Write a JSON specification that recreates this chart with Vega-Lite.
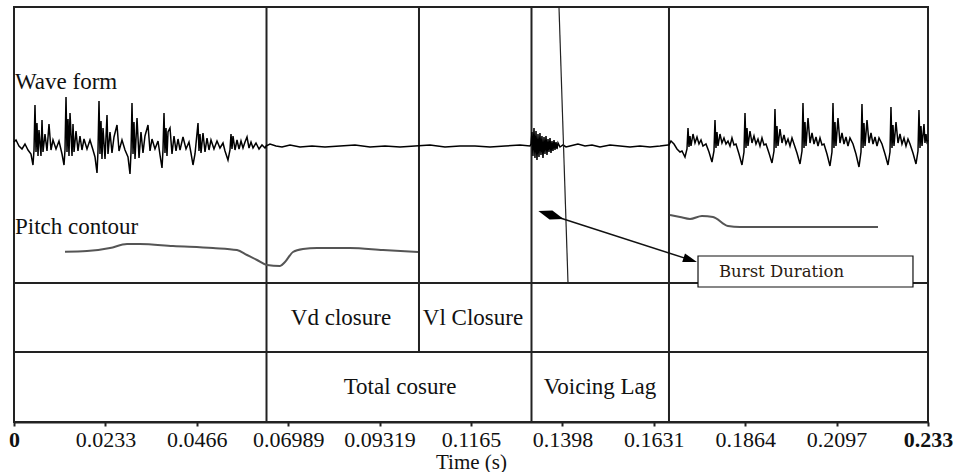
{
  "$schema": "https://vega.github.io/schema/vega-lite/v6.json",
  "width": 914,
  "height": 415,
  "autosize": "none",
  "padding": {"left": 14, "top": 7, "right": 32, "bottom": 50},
  "background": "white",
  "config": {
    "view": {"stroke": "#222", "strokeWidth": 2},
    "font": "Liberation Serif"
  },
  "datasets": {
    "lines": [
      {"t": 0.06437, "t2": 0.06437, "v": 139, "v2": -276},
      {"t": 0.10324, "t2": 0.10324, "v": 139, "v2": -206},
      {"t": 0.13192, "t2": 0.13192, "v": 139, "v2": -276},
      {"t": 0.16697, "t2": 0.16697, "v": 139, "v2": -276},
      {"t": 0, "t2": 0.233, "v": -137, "v2": -137},
      {"t": 0, "t2": 0.233, "v": -206, "v2": -206}
    ],
    "diag": [{"t": 0.13893, "t2": 0.14123, "v": 139, "v2": -137}],
    "arrow": [{"t": 0.13689, "t2": 0.1724, "v": -69, "v2": -113.9}],
    "diamond": [{"t": 0.13689, "v": -69}],
    "head": [{"t": 0.1724, "v": -113.9}],
    "box": [{"t": 0.17437, "t2": 0.22917, "v": -110, "v2": -141}],
    "pitch": [
      {"seg": "L", "t": 0.013, "v": -105.7},
      {"seg": "L", "t": 0.01861, "v": -105},
      {"seg": "L", "t": 0.02447, "v": -102},
      {"seg": "L", "t": 0.02881, "v": -98},
      {"seg": "L", "t": 0.03212, "v": -98},
      {"seg": "L", "t": 0.04053, "v": -100},
      {"seg": "L", "t": 0.05073, "v": -102},
      {"seg": "L", "t": 0.05685, "v": -104},
      {"seg": "L", "t": 0.0594, "v": -109},
      {"seg": "L", "t": 0.06195, "v": -114},
      {"seg": "L", "t": 0.06449, "v": -119},
      {"seg": "L", "t": 0.06781, "v": -120},
      {"seg": "L", "t": 0.06908, "v": -116},
      {"seg": "L", "t": 0.07112, "v": -106},
      {"seg": "L", "t": 0.07367, "v": -103},
      {"seg": "L", "t": 0.07724, "v": -102},
      {"seg": "L", "t": 0.08565, "v": -102},
      {"seg": "L", "t": 0.09407, "v": -104},
      {"seg": "L", "t": 0.10299, "v": -106},
      {"seg": "R", "t": 0.16723, "v": -69},
      {"seg": "R", "t": 0.16978, "v": -71},
      {"seg": "R", "t": 0.17233, "v": -73},
      {"seg": "R", "t": 0.17538, "v": -70},
      {"seg": "R", "t": 0.17819, "v": -71},
      {"seg": "R", "t": 0.18201, "v": -80},
      {"seg": "R", "t": 0.18507, "v": -81},
      {"seg": "R", "t": 0.22025, "v": -81}
    ],
    "leftLabels": [
      {"t": 0.00025, "v": 57, "label": "Wave form"},
      {"t": 0.00025, "v": -88, "label": "Pitch contour"}
    ],
    "cellLabels": [
      {"t": 0.08336, "v": -179, "label": "Vd closure"},
      {"t": 0.11701, "v": -179, "label": "Vl Closure"},
      {"t": 0.0984, "v": -248, "label": "Total cosure"},
      {"t": 0.14938, "v": -248, "label": "Voicing Lag"}
    ],
    "boxLabel": [{"t": 0.17972, "v": -131, "label": "Burst Duration"}],
    "wave": [
      {"t": 0, "v": 4}, {"t": 0.00051, "v": 6}, {"t": 0.00127, "v": 0}, {"t": 0.00204, "v": -3},
      {"t": 0.0028, "v": 2}, {"t": 0.00357, "v": -4}, {"t": 0.00433, "v": -8}, {"t": 0.00484, "v": -19},
      {"t": 0.0051, "v": -4}, {"t": 0.00535, "v": 41}, {"t": 0.00561, "v": -6}, {"t": 0.00586, "v": 23},
      {"t": 0.00612, "v": -10}, {"t": 0.00637, "v": 16}, {"t": 0.00688, "v": -10}, {"t": 0.00714, "v": 26},
      {"t": 0.00739, "v": -6}, {"t": 0.0079, "v": 12}, {"t": 0.00841, "v": -5}, {"t": 0.00892, "v": 22},
      {"t": 0.00943, "v": -4}, {"t": 0.00994, "v": 6}, {"t": 0.01071, "v": -3}, {"t": 0.01147, "v": 5},
      {"t": 0.01224, "v": -8}, {"t": 0.01275, "v": -19}, {"t": 0.013, "v": -4}, {"t": 0.01326, "v": 49},
      {"t": 0.01351, "v": -6}, {"t": 0.01377, "v": 27}, {"t": 0.01402, "v": -10}, {"t": 0.01428, "v": 33},
      {"t": 0.01479, "v": -10}, {"t": 0.01504, "v": 22}, {"t": 0.0153, "v": -6}, {"t": 0.01581, "v": 15},
      {"t": 0.01631, "v": -5}, {"t": 0.01682, "v": 10}, {"t": 0.01733, "v": -4}, {"t": 0.01784, "v": 7},
      {"t": 0.01861, "v": -3}, {"t": 0.01937, "v": 6}, {"t": 0.02014, "v": -4}, {"t": 0.02065, "v": -11},
      {"t": 0.02116, "v": -27}, {"t": 0.02141, "v": -5}, {"t": 0.02167, "v": 45}, {"t": 0.02192, "v": -8},
      {"t": 0.02218, "v": 25}, {"t": 0.02243, "v": -13}, {"t": 0.02269, "v": 18}, {"t": 0.0232, "v": -13},
      {"t": 0.02371, "v": 31}, {"t": 0.02396, "v": -8}, {"t": 0.02447, "v": 14}, {"t": 0.02498, "v": -7},
      {"t": 0.02549, "v": 9}, {"t": 0.02626, "v": 21}, {"t": 0.02677, "v": -5}, {"t": 0.02753, "v": 6},
      {"t": 0.0283, "v": -4}, {"t": 0.02906, "v": -11}, {"t": 0.02957, "v": -28}, {"t": 0.02983, "v": -6},
      {"t": 0.03008, "v": 43}, {"t": 0.03034, "v": -8}, {"t": 0.03059, "v": 24}, {"t": 0.03085, "v": -13},
      {"t": 0.03136, "v": 28}, {"t": 0.03187, "v": -12}, {"t": 0.03237, "v": 14}, {"t": 0.03288, "v": -7},
      {"t": 0.03339, "v": 10}, {"t": 0.03416, "v": 21}, {"t": 0.03467, "v": -5}, {"t": 0.03518, "v": 7},
      {"t": 0.03594, "v": -3}, {"t": 0.03671, "v": 5}, {"t": 0.03722, "v": -9}, {"t": 0.03773, "v": -22},
      {"t": 0.03798, "v": -4}, {"t": 0.03824, "v": 33}, {"t": 0.03849, "v": -7}, {"t": 0.03875, "v": 18},
      {"t": 0.039, "v": -10}, {"t": 0.03926, "v": 14}, {"t": 0.03977, "v": 18}, {"t": 0.04028, "v": -8},
      {"t": 0.04079, "v": 10}, {"t": 0.0413, "v": -5}, {"t": 0.04181, "v": 7}, {"t": 0.04232, "v": -4},
      {"t": 0.04308, "v": 9}, {"t": 0.04385, "v": -3}, {"t": 0.04461, "v": 4}, {"t": 0.04512, "v": -7},
      {"t": 0.04563, "v": -19}, {"t": 0.04614, "v": -8}, {"t": 0.04691, "v": 23}, {"t": 0.04716, "v": -5},
      {"t": 0.04742, "v": 12}, {"t": 0.04767, "v": -7}, {"t": 0.04818, "v": 13}, {"t": 0.04869, "v": -6},
      {"t": 0.0492, "v": 8}, {"t": 0.04971, "v": -4}, {"t": 0.05022, "v": 6}, {"t": 0.05098, "v": -3},
      {"t": 0.05175, "v": 5}, {"t": 0.05251, "v": -2}, {"t": 0.05328, "v": 3}, {"t": 0.05379, "v": -5},
      {"t": 0.05455, "v": -14}, {"t": 0.05506, "v": -4}, {"t": 0.05532, "v": 12}, {"t": 0.05557, "v": -3},
      {"t": 0.05583, "v": 10}, {"t": 0.05634, "v": -4}, {"t": 0.05685, "v": 6}, {"t": 0.05736, "v": -3},
      {"t": 0.05787, "v": 5}, {"t": 0.05838, "v": -2}, {"t": 0.05889, "v": 4}, {"t": 0.0594, "v": 9},
      {"t": 0.05991, "v": -2}, {"t": 0.06042, "v": 4}, {"t": 0.06093, "v": -2}, {"t": 0.06169, "v": 3},
      {"t": 0.06246, "v": -3}, {"t": 0.06322, "v": 1}, {"t": 0.06399, "v": -2}, {"t": 0.06424, "v": 0},
      {"t": 0.06526, "v": 2}, {"t": 0.06679, "v": 0}, {"t": 0.06832, "v": -1}, {"t": 0.07036, "v": 1},
      {"t": 0.07291, "v": -1}, {"t": 0.07597, "v": 0}, {"t": 0.07928, "v": -1}, {"t": 0.0831, "v": 0},
      {"t": 0.08693, "v": 1}, {"t": 0.09075, "v": -1}, {"t": 0.09458, "v": 0}, {"t": 0.0984, "v": -1},
      {"t": 0.10222, "v": 0}, {"t": 0.10605, "v": 1}, {"t": 0.10987, "v": -1}, {"t": 0.11369, "v": 0},
      {"t": 0.11752, "v": 0}, {"t": 0.12134, "v": -1}, {"t": 0.12517, "v": 0}, {"t": 0.12899, "v": 1},
      {"t": 0.13154, "v": 0},
      {"t": 0.13179, "v": 2}, {"t": 0.13205, "v": 14}, {"t": 0.1323, "v": -10}, {"t": 0.13256, "v": 18},
      {"t": 0.13281, "v": -12}, {"t": 0.13307, "v": 15}, {"t": 0.13332, "v": -14}, {"t": 0.13358, "v": 12},
      {"t": 0.13383, "v": -11}, {"t": 0.13408, "v": 13}, {"t": 0.13434, "v": -9}, {"t": 0.13459, "v": 10},
      {"t": 0.13485, "v": -12}, {"t": 0.13511, "v": 9}, {"t": 0.13536, "v": -8}, {"t": 0.13562, "v": 10},
      {"t": 0.13587, "v": -9}, {"t": 0.13613, "v": 7}, {"t": 0.13638, "v": -6}, {"t": 0.13664, "v": 8},
      {"t": 0.13689, "v": -7}, {"t": 0.13715, "v": 5}, {"t": 0.1374, "v": -5}, {"t": 0.13766, "v": 6},
      {"t": 0.13791, "v": -4}, {"t": 0.13817, "v": 4}, {"t": 0.13842, "v": -3}, {"t": 0.13868, "v": 3},
      {"t": 0.13919, "v": -1}, {"t": 0.13995, "v": 1}, {"t": 0.14072, "v": -1},
      {"t": 0.14174, "v": 0}, {"t": 0.14377, "v": 2}, {"t": 0.14556, "v": 0}, {"t": 0.14734, "v": 1},
      {"t": 0.14938, "v": -1}, {"t": 0.15193, "v": 1}, {"t": 0.15448, "v": 0}, {"t": 0.15703, "v": -1},
      {"t": 0.15958, "v": 0}, {"t": 0.16213, "v": -1}, {"t": 0.16468, "v": 0}, {"t": 0.16672, "v": 1},
      {"t": 0.16697, "v": 1}, {"t": 0.16748, "v": 5}, {"t": 0.16825, "v": 2}, {"t": 0.16901, "v": -3},
      {"t": 0.16978, "v": -6}, {"t": 0.17029, "v": -5}, {"t": 0.17105, "v": -11}, {"t": 0.17156, "v": -3},
      {"t": 0.17182, "v": 18}, {"t": 0.17207, "v": -1}, {"t": 0.17233, "v": 10}, {"t": 0.17258, "v": 0},
      {"t": 0.17309, "v": 12}, {"t": 0.1736, "v": 3}, {"t": 0.17411, "v": 9}, {"t": 0.17462, "v": 2},
      {"t": 0.17513, "v": 6}, {"t": 0.17564, "v": 0}, {"t": 0.1764, "v": 2}, {"t": 0.17717, "v": -6},
      {"t": 0.17793, "v": -16}, {"t": 0.17844, "v": -5}, {"t": 0.1787, "v": 26}, {"t": 0.17895, "v": -2},
      {"t": 0.17921, "v": 14}, {"t": 0.17946, "v": 0}, {"t": 0.17997, "v": 12}, {"t": 0.18048, "v": 3},
      {"t": 0.18099, "v": 8}, {"t": 0.1815, "v": 2}, {"t": 0.18201, "v": 5}, {"t": 0.18252, "v": 0},
      {"t": 0.18303, "v": 8}, {"t": 0.18354, "v": 1}, {"t": 0.18405, "v": 2}, {"t": 0.18482, "v": -8},
      {"t": 0.18558, "v": -19}, {"t": 0.18609, "v": -6}, {"t": 0.18635, "v": 33}, {"t": 0.1866, "v": -2},
      {"t": 0.18686, "v": 18}, {"t": 0.18711, "v": 0}, {"t": 0.18762, "v": 15}, {"t": 0.18813, "v": 3},
      {"t": 0.18864, "v": 10}, {"t": 0.18915, "v": 2}, {"t": 0.18966, "v": 7}, {"t": 0.19017, "v": 0},
      {"t": 0.19068, "v": 8}, {"t": 0.19119, "v": 1}, {"t": 0.1917, "v": 2}, {"t": 0.19246, "v": -7},
      {"t": 0.19323, "v": -17}, {"t": 0.19374, "v": -5}, {"t": 0.19399, "v": 37}, {"t": 0.19425, "v": -2},
      {"t": 0.1945, "v": 20}, {"t": 0.19476, "v": 0}, {"t": 0.19527, "v": 17}, {"t": 0.19578, "v": 3},
      {"t": 0.19629, "v": 11}, {"t": 0.1968, "v": 2}, {"t": 0.19731, "v": 7}, {"t": 0.19782, "v": 0},
      {"t": 0.19833, "v": 8}, {"t": 0.19884, "v": 2}, {"t": 0.1996, "v": -7}, {"t": 0.20037, "v": -18},
      {"t": 0.20088, "v": -5}, {"t": 0.20113, "v": 43}, {"t": 0.20139, "v": -2}, {"t": 0.20164, "v": 24},
      {"t": 0.2019, "v": 0}, {"t": 0.20241, "v": 28}, {"t": 0.20292, "v": 3}, {"t": 0.20343, "v": 13},
      {"t": 0.20394, "v": 2}, {"t": 0.20445, "v": 9}, {"t": 0.20496, "v": 0}, {"t": 0.20547, "v": 8},
      {"t": 0.20598, "v": 1}, {"t": 0.20649, "v": 2}, {"t": 0.20725, "v": -8}, {"t": 0.20801, "v": -20},
      {"t": 0.20852, "v": -6}, {"t": 0.20878, "v": 43}, {"t": 0.20903, "v": -2}, {"t": 0.20929, "v": 24},
      {"t": 0.20954, "v": 0}, {"t": 0.21005, "v": 28}, {"t": 0.21056, "v": 3}, {"t": 0.21107, "v": 13},
      {"t": 0.21158, "v": 2}, {"t": 0.21209, "v": 9}, {"t": 0.2126, "v": 0}, {"t": 0.21311, "v": 8},
      {"t": 0.21388, "v": 2}, {"t": 0.21464, "v": -8}, {"t": 0.21541, "v": -21}, {"t": 0.21592, "v": -6},
      {"t": 0.21617, "v": 42}, {"t": 0.21643, "v": -2}, {"t": 0.21668, "v": 23}, {"t": 0.21694, "v": 0},
      {"t": 0.21745, "v": 26}, {"t": 0.21796, "v": 3}, {"t": 0.21847, "v": 13}, {"t": 0.21898, "v": 2},
      {"t": 0.21949, "v": 9}, {"t": 0.22, "v": 0}, {"t": 0.22051, "v": 8}, {"t": 0.22127, "v": 2},
      {"t": 0.22204, "v": -8}, {"t": 0.2228, "v": -19}, {"t": 0.22331, "v": -6}, {"t": 0.22356, "v": 39},
      {"t": 0.22382, "v": -2}, {"t": 0.22407, "v": 21}, {"t": 0.22433, "v": 0}, {"t": 0.22484, "v": 24},
      {"t": 0.22535, "v": 3}, {"t": 0.22586, "v": 12}, {"t": 0.22637, "v": 2}, {"t": 0.22688, "v": 8},
      {"t": 0.22739, "v": 0}, {"t": 0.2279, "v": 7}, {"t": 0.22841, "v": 2}, {"t": 0.22917, "v": -7},
      {"t": 0.22994, "v": -18}, {"t": 0.23045, "v": -5}, {"t": 0.2307, "v": 36}, {"t": 0.23096, "v": -2},
      {"t": 0.23121, "v": 20}, {"t": 0.23147, "v": 0}, {"t": 0.23198, "v": 22}, {"t": 0.23223, "v": 3},
      {"t": 0.23249, "v": 12}, {"t": 0.23274, "v": 4}, {"t": 0.233, "v": 6}
    ]
  },
  "encoding": {
    "x": {
      "field": "t",
      "type": "quantitative",
      "scale": {"domain": [0, 0.233], "nice": false, "zero": false},
      "axis": {
        "values": [0, 0.0233, 0.0466, 0.06989, 0.09319, 0.1165, 0.1398, 0.1631, 0.1864, 0.2097, 0.233],
        "labelExpr": "'' + datum.value",
        "labelFont": "Liberation Serif",
        "labelFontSize": 22,
        "labelColor": "#111",
        "labelFontWeight": {"condition": {"test": "datum.value == 0 || datum.value == 0.233", "value": "bold"}, "value": "normal"},
        "labelPadding": 3,
        "labelFlush": false,
        "labelOverlap": false,
        "tickSize": 4,
        "tickColor": "#222",
        "tickWidth": 2,
        "domainColor": "#222",
        "domainWidth": 2,
        "grid": false,
        "title": "Time (s)",
        "titleFont": "Liberation Serif",
        "titleFontSize": 21,
        "titleFontWeight": "normal",
        "titleColor": "#111",
        "titlePadding": 1
      }
    },
    "y": {
      "field": "v",
      "type": "quantitative",
      "scale": {"domain": [-276, 139], "nice": false, "zero": false},
      "axis": null
    }
  },
  "layer": [
    {
      "data": {"name": "lines"},
      "mark": {"type": "rule", "color": "#222", "strokeWidth": 2},
      "encoding": {"x2": {"field": "t2"}, "y2": {"field": "v2"}}
    },
    {
      "data": {"name": "wave"},
      "mark": {"type": "line", "color": "#000", "strokeWidth": 1.5, "strokeJoin": "miter"},
      "encoding": {}
    },
    {
      "data": {"name": "pitch"},
      "mark": {"type": "line", "color": "#555", "strokeWidth": 2, "interpolate": "monotone"},
      "encoding": {"detail": {"field": "seg"}}
    },
    {
      "data": {"name": "diag"},
      "mark": {"type": "rule", "color": "#222", "strokeWidth": 1.2},
      "encoding": {"x2": {"field": "t2"}, "y2": {"field": "v2"}}
    },
    {
      "data": {"name": "arrow"},
      "mark": {"type": "rule", "color": "#111", "strokeWidth": 1.5},
      "encoding": {"x2": {"field": "t2"}, "y2": {"field": "v2"}}
    },
    {
      "data": {"name": "box"},
      "mark": {"type": "rect", "fill": "white", "stroke": "#111", "strokeWidth": 1.2},
      "encoding": {"x2": {"field": "t2"}, "y2": {"field": "v2"}}
    },
    {
      "data": {"name": "diamond"},
      "mark": {"type": "point", "shape": "M-1,0L0,-0.35L1,0L0,0.35Z", "size": 700, "angle": 17.8, "filled": true, "color": "#000", "opacity": 1},
      "encoding": {}
    },
    {
      "data": {"name": "head"},
      "mark": {"type": "point", "shape": "M1,0L-1,-0.65L-1,0.65Z", "size": 196, "angle": 17.8, "filled": true, "color": "#000", "opacity": 1},
      "encoding": {}
    },
    {
      "data": {"name": "leftLabels"},
      "mark": {"type": "text", "align": "left", "baseline": "alphabetic", "font": "Liberation Serif", "fontSize": 23, "color": "#111"},
      "encoding": {"text": {"field": "label"}}
    },
    {
      "data": {"name": "cellLabels"},
      "mark": {"type": "text", "align": "center", "baseline": "alphabetic", "font": "Liberation Serif", "fontSize": 23, "color": "#111"},
      "encoding": {"text": {"field": "label"}}
    },
    {
      "data": {"name": "boxLabel"},
      "mark": {"type": "text", "align": "left", "baseline": "alphabetic", "font": "DejaVu Serif", "fontSize": 16.5, "color": "#2a1a10"},
      "encoding": {"text": {"field": "label"}}
    }
  ]
}
